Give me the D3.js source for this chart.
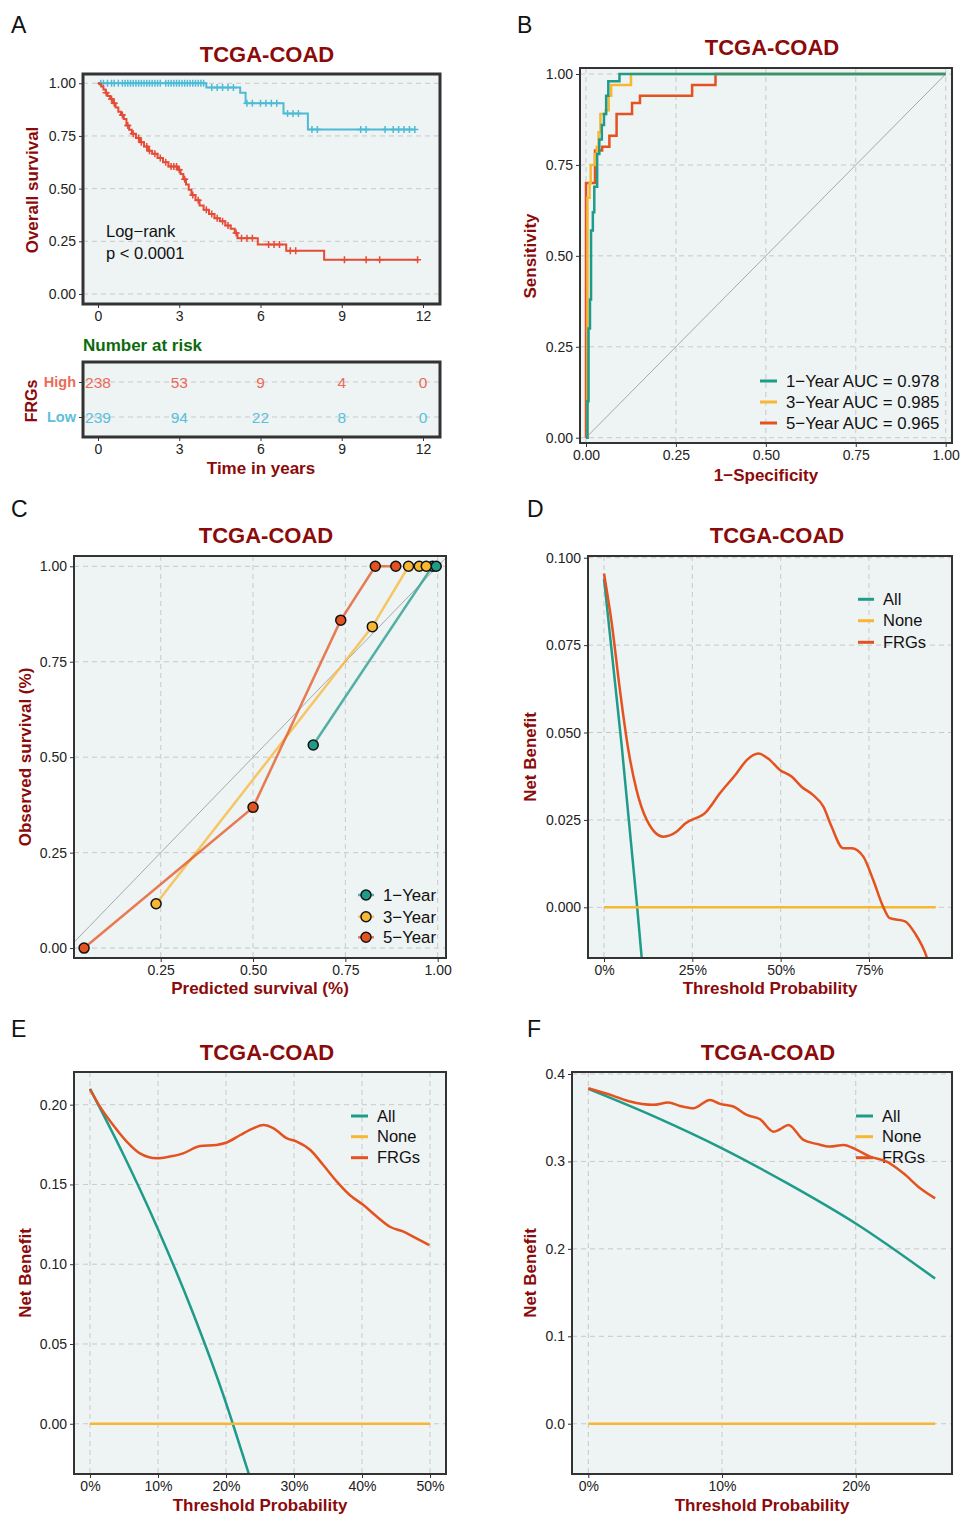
<!DOCTYPE html>
<html>
<head>
<meta charset="utf-8">
<script src="https://cdn.jsdelivr.net/npm/d3@7"></script>
<style>
body { margin: 0; background: #fff; }
svg text { font-family: "Liberation Sans", Arial, sans-serif; }
</style>
</head>
<body>
<div class="chart"></div>
<script>
// ---------- data ----------
// A: Kaplan-Meier, high / low FRGs risk
const hiStepT = [0.05,0.12,0.2,0.28,0.35,0.45,0.55,0.65,0.75,0.85,0.95,1.05,1.15,1.25,1.4,1.55,1.7,1.85,2.0,2.2,2.4,2.6,2.95,3.05,3.15,3.25,3.35,3.45,3.6,3.75,3.9,4.1,4.3,4.5,4.7,4.9,5.05,5.15,5.9,6.95,8.35]
const hiStepS = [0.995,0.985,0.97,0.955,0.94,0.925,0.905,0.885,0.865,0.85,0.83,0.80,0.78,0.76,0.74,0.72,0.70,0.68,0.665,0.645,0.625,0.605,0.59,0.57,0.545,0.52,0.495,0.47,0.445,0.42,0.40,0.38,0.36,0.345,0.325,0.31,0.29,0.265,0.235,0.205,0.162]
const hiEnd = 11.83
const hiCensor = [0.3,0.5,0.6,0.9,1.1,1.3,1.5,1.6,1.8,1.9,2.1,2.3,2.5,2.7,2.8,2.9,3.0,3.2,3.5,3.7,4.0,4.2,4.4,4.6,4.8,5.1,5.3,5.5,5.7,6.3,6.5,6.7,7.1,7.3,9.1,9.9,10.4,11.8]
const loStepT = [4.0,5.25,5.45,6.85,7.75]
const loStepS = [0.98,0.955,0.905,0.857,0.781]
const loEnd = 11.7
const loCensor = [0.1,0.2,0.35,0.5,0.6,0.75,0.9,1.0,1.1,1.2,1.3,1.4,1.5,1.6,1.7,1.8,1.9,2.0,2.1,2.2,2.3,2.5,2.6,2.7,2.8,2.9,3.0,3.1,3.2,3.3,3.4,3.5,3.6,3.7,3.8,3.9,4.2,4.4,4.6,4.8,5.0,5.5,5.7,6.0,6.2,6.4,6.6,7.0,7.2,7.4,7.9,8.1,9.7,9.9,10.6,10.9,11.1,11.3,11.5,11.7]
const riskTimes = [0,3,6,9,12]
const riskHigh = [238,53,9,4,0]
const riskLow = [239,94,22,8,0]
const groups = ['High','Low']

// B: time-dependent ROC (corner points of the step curves)
const roc1 = [[0,0],[0.004,0.10],[0.007,0.30],[0.011,0.38],[0.014,0.57],[0.019,0.62],[0.023,0.69],[0.031,0.78],[0.037,0.82],[0.044,0.86],[0.05,0.89],[0.056,0.94],[0.062,0.98],[0.093,1.0],[1,1]]
const roc3 = [[0,0],[0.004,0.66],[0.01,0.70],[0.013,0.75],[0.025,0.78],[0.03,0.80],[0.035,0.84],[0.04,0.89],[0.055,0.90],[0.063,0.94],[0.07,0.97],[0.125,1.0],[1,1]]
const roc5 = [[0,0],[0,0.70],[0.025,0.79],[0.045,0.80],[0.065,0.83],[0.085,0.89],[0.128,0.92],[0.15,0.94],[0.295,0.97],[0.36,1.0],[1,1]]
const rocLabels = ['1\u2212Year AUC = 0.978','3\u2212Year AUC = 0.985','5\u2212Year AUC = 0.965']

// C: calibration
const cal1Pred = [0.663,0.986,0.996], cal1Obs = [0.532,1,1]
const cal3Pred = [0.2375,0.823,0.921,0.950,0.969], cal3Obs = [0.116,0.842,1,1,1]
const cal5Pred = [0.0425,0.5,0.7375,0.831,0.8865], cal5Obs = [0,0.3686,0.859,1,1]
const calLabels = ['1\u2212Year','3\u2212Year','5\u2212Year']

// D/E/F: decision curves
const dcaLabels = ['All','None','FRGs']
const dThr = [0,0.022,0.045,0.069,0.092,0.121,0.168,0.205,0.229,0.29,0.328,0.375,0.404,0.437,0.47,0.498,0.531,0.559,0.592,0.621,0.644,0.677,0.701,0.734,0.762,0.79,0.809,0.852,0.88,0.913,0.93]
const dFRG = [0.0955,0.0812,0.0622,0.045,0.0336,0.025,0.0202,0.0216,0.0239,0.0274,0.0326,0.0383,0.0421,0.044,0.0421,0.0393,0.0374,0.0345,0.0321,0.0288,0.0231,0.0169,0.0169,0.0145,0.0078,0.0002,-0.0031,-0.004,-0.0074,-0.0141,-0.02]
const dAllThr = [0,0.05,0.094,0.115], dAll = [0.094,0.0463,0,-0.024]
const dNoneThr = [0,0.939]

const eThr = [0,0.0147,0.034,0.054,0.0735,0.098,0.1176,0.137,0.162,0.186,0.201,0.221,0.240,0.255,0.270,0.289,0.304,0.324,0.343,0.363,0.382,0.402,0.422,0.441,0.461,0.480,0.499]
const eFRG = [0.2097,0.1988,0.1873,0.1769,0.1695,0.1664,0.1675,0.1695,0.1741,0.1748,0.1763,0.181,0.1852,0.1873,0.1852,0.179,0.1769,0.1716,0.1622,0.1518,0.1434,0.1371,0.1298,0.1235,0.1204,0.1162,0.112]
const eAllThr = [0,0.05,0.1,0.15,0.2,0.21,0.24], eAll = [0.21,0.168,0.122,0.071,0.013,0,-0.04]
const eNoneThr = [0,0.5]

const fThr = [0,0.0187,0.0312,0.0486,0.0598,0.0686,0.0785,0.091,0.0985,0.1085,0.1185,0.1285,0.1384,0.1434,0.1496,0.1609,0.1708,0.1808,0.1908,0.2008,0.2107,0.2232,0.2357,0.2482,0.2594]
const fFRG = [0.3837,0.375,0.3685,0.3647,0.3673,0.3635,0.3608,0.3704,0.3658,0.3628,0.3532,0.3483,0.3341,0.3368,0.3418,0.3246,0.3201,0.317,0.3189,0.3132,0.3055,0.2998,0.2864,0.2693,0.2578]
const fAllThr = [0,0.05,0.1,0.15,0.2,0.2594], fAll = [0.383,0.351,0.315,0.274,0.229,0.166]
const fNoneThr = [0,0.2594]

// ---------- styles ----------
const DARKRED = '#8B0A0A'
const BG = '#EEF3F4'
const GRID = '#C9C9C9'
const TEAL = '#1F9B89', YEL = '#F7B733', ORG = '#E4531F'
const KM_HI = '#E64B35', KM_LO = '#4DBBD5'
const HI_TXT = '#EC6A57', LO_TXT = '#5CC0DA'

const svg = d3.select('.chart').append('svg')
    .attr('width', 960)
    .attr('height', 1515)
    .style('display', 'block')

let clipN = 0

function panel(o){
    const x = d3.scaleLinear().domain(o.xDomain).range([o.left, o.right])
    const y = d3.scaleLinear().domain(o.yDomain).range([o.bottom, o.top])
    const g = svg.append('g')
    g.append('rect')
        .attr('x', o.left).attr('y', o.top)
        .attr('width', o.right - o.left).attr('height', o.bottom - o.top)
        .attr('fill', BG)
    if (o.vgrid !== false) {
        g.selectAll('.vg').data(o.xTicks).join('line')
            .attr('x1', d => x(d)).attr('x2', d => x(d))
            .attr('y1', o.top).attr('y2', o.bottom)
            .attr('stroke', GRID).attr('stroke-dasharray', '5,4')
    }
    g.selectAll('.hg').data(o.yTicks).join('line')
        .attr('y1', d => y(d)).attr('y2', d => y(d))
        .attr('x1', o.left).attr('x2', o.right)
        .attr('stroke', GRID).attr('stroke-dasharray', '5,4')

    const id = 'clip' + (clipN++)
    svg.append('clipPath').attr('id', id).append('rect')
        .attr('x', o.left).attr('y', o.top)
        .attr('width', o.right - o.left).attr('height', o.bottom - o.top)
    const plot = g.append('g').attr('clip-path', `url(#${id})`)
    const top = g.append('g')

    top.append('rect')
        .attr('x', o.left).attr('y', o.top)
        .attr('width', o.right - o.left).attr('height', o.bottom - o.top)
        .attr('fill', 'none').attr('stroke', '#333').attr('stroke-width', o.border || 2)

    const xAxis = d3.axisBottom(x).tickValues(o.xTicks).tickFormat(o.xFmt).tickSize(4).tickPadding(3)
    const yAxis = d3.axisLeft(y).tickValues(o.yTicks).tickFormat(o.yFmt).tickSize(4).tickPadding(3)
    const xa = top.append('g').attr('transform', `translate(0,${o.bottom})`).call(xAxis)
    const ya = top.append('g').attr('transform', `translate(${o.left},0)`).call(yAxis)
    for (const a of [xa, ya]) {
        a.select('.domain').remove()
        a.selectAll('.tick line').attr('stroke', '#333')
        a.selectAll('.tick text').attr('fill', '#222').style('font-size', '14px')
    }

    if (o.title) {
        top.append('text')
            .attr('x', o.titleX).attr('y', o.titleY)
            .attr('text-anchor', 'middle')
            .style('font-size', '22px').style('font-weight', 'bold')
            .attr('fill', DARKRED).text(o.title)
    }
    if (o.xLabel) {
        top.append('text')
            .attr('x', o.xlX).attr('y', o.xlY)
            .attr('text-anchor', 'middle')
            .style('font-size', '17px').style('font-weight', 'bold')
            .attr('fill', DARKRED).text(o.xLabel)
    }
    if (o.yLabel) {
        top.append('text')
            .attr('transform', `translate(${o.ylX},${o.ylY}) rotate(-90)`)
            .attr('text-anchor', 'middle')
            .style('font-size', '17px').style('font-weight', 'bold')
            .attr('fill', DARKRED).text(o.yLabel)
    }
    return {x, y, plot, top, xa, ya}
}

function letter(t, x, y){
    svg.append('text').attr('x', x).attr('y', y)
        .style('font-size', '23px').attr('fill', '#111').text(t)
}

function lineLegend(g, items, x1, x2, tx, ys, fs){
    items.forEach((it, i) => {
        g.append('line').attr('x1', x1).attr('x2', x2).attr('y1', ys[i]).attr('y2', ys[i])
            .attr('stroke', it.color).attr('stroke-width', 3)
        g.append('text').attr('x', tx).attr('y', ys[i]).attr('dy', '0.35em')
            .style('font-size', fs + 'px').attr('fill', '#111').text(it.label)
    })
}

// ---------- A: Kaplan-Meier ----------
letter('A', 11, 33)
const pA = panel({
    left: 83, right: 440, top: 74, bottom: 304,
    xDomain: [-0.554, 12.628], yDomain: [-0.0475, 1.044],
    xTicks: riskTimes, yTicks: [0, 0.25, 0.5, 0.75, 1],
    xFmt: d3.format('d'), yFmt: d3.format('.2f'),
    vgrid: false, border: 3,
    title: 'TCGA-COAD', titleX: 267, titleY: 62,
    yLabel: 'Overall survival', ylX: 38, ylY: 190
})

function survAt(ts, ss, t){
    let s = 1
    ts.forEach((tt, i) => { if (tt <= t) s = ss[i] })
    return s
}
const kmLine = d3.line().x(d => pA.x(d[0])).y(d => pA.y(d[1])).curve(d3.curveStepAfter)
const kmSets = [
    {t: loStepT, s: loStepS, end: loEnd, c: loCensor, col: KM_LO},
    {t: hiStepT, s: hiStepS, end: hiEnd, c: hiCensor, col: KM_HI}
]
kmSets.forEach(k => {
    const pts = [[0, 1]].concat(k.t.map((t, i) => [t, k.s[i]]))
    pts.push([k.end, k.s[k.s.length - 1]])
    pA.plot.append('path').attr('d', kmLine(pts))
        .attr('fill', 'none').attr('stroke', k.col).attr('stroke-width', 2)
    pA.plot.selectAll(null).data(k.c).join('path')
        .attr('d', d => {
            const cx = pA.x(d), cy = pA.y(survAt(k.t, k.s, d))
            return `M${cx-3.5},${cy}H${cx+3.5}M${cx},${cy-3.5}V${cy+3.5}`
        })
        .attr('stroke', k.col).attr('stroke-width', 1.5)
})
pA.top.append('text').attr('x', 106).attr('y', 237)
    .style('font-size', '16.5px').attr('fill', '#111').text('Log\u2212rank')
pA.top.append('text').attr('x', 106).attr('y', 259)
    .style('font-size', '16.5px').attr('fill', '#111').text('p < 0.0001')

// risk table
svg.append('text').attr('x', 83).attr('y', 350.5)
    .style('font-size', '17px').style('font-weight', 'bold')
    .attr('fill', '#0B6B0B').text('Number at risk')
{
    const left = 83, right = 440, top = 362, bottom = 437
    const x = pA.x
    const y = d3.scalePoint().domain(groups).range([382, 417])
    const g = svg.append('g')
    g.append('rect').attr('x', left).attr('y', top)
        .attr('width', right - left).attr('height', bottom - top).attr('fill', BG)
    g.selectAll('.hg').data(groups).join('line')
        .attr('x1', left).attr('x2', right)
        .attr('y1', d => y(d)).attr('y2', d => y(d))
        .attr('stroke', GRID).attr('stroke-dasharray', '5,4')
    const rows = [{g: 'High', v: riskHigh, col: HI_TXT}, {g: 'Low', v: riskLow, col: LO_TXT}]
    rows.forEach(r => {
        g.selectAll(null).data(r.v).join('text')
            .attr('x', (d, i) => x(riskTimes[i])).attr('y', y(r.g)).attr('dy', '0.36em')
            .attr('text-anchor', 'middle')
            .style('font-size', '15.5px').attr('fill', r.col).text(d => d)
    })
    g.append('rect').attr('x', left).attr('y', top)
        .attr('width', right - left).attr('height', bottom - top)
        .attr('fill', 'none').attr('stroke', '#333').attr('stroke-width', 3)
    const xa = g.append('g').attr('transform', `translate(0,${bottom})`)
        .call(d3.axisBottom(x).tickValues(riskTimes).tickFormat(d3.format('d')).tickSize(4).tickPadding(3))
    const ya = g.append('g').attr('transform', `translate(${left},0)`)
        .call(d3.axisLeft(y).tickSize(4).tickPadding(3))
    for (const a of [xa, ya]) {
        a.select('.domain').remove()
        a.selectAll('.tick line').attr('stroke', '#333')
        a.selectAll('.tick text').attr('fill', '#222').style('font-size', '14px')
    }
    ya.selectAll('.tick text')
        .attr('fill', d => d === 'High' ? HI_TXT : LO_TXT)
        .style('font-weight', 'bold').style('font-size', '14.5px')
    g.append('text').attr('transform', 'translate(37,401) rotate(-90)')
        .attr('text-anchor', 'middle').style('font-size', '16px').style('font-weight', 'bold')
        .attr('fill', DARKRED).text('FRGs')
    g.append('text').attr('x', 261).attr('y', 474).attr('text-anchor', 'middle')
        .style('font-size', '17px').style('font-weight', 'bold')
        .attr('fill', DARKRED).text('Time in years')
}

// ---------- B: ROC ----------
letter('B', 517, 33)
const pB = panel({
    left: 580, right: 952, top: 68, bottom: 443,
    xDomain: [-0.0167, 1.0175], yDomain: [-0.0146, 1.0165],
    xTicks: [0, 0.25, 0.5, 0.75, 1], yTicks: [0, 0.25, 0.5, 0.75, 1],
    xFmt: d3.format('.2f'), yFmt: d3.format('.2f'),
    title: 'TCGA-COAD', titleX: 772, titleY: 55,
    xLabel: '1\u2212Specificity', xlX: 766, xlY: 480.5,
    yLabel: 'Sensitivity', ylX: 536, ylY: 256
})
pB.plot.append('line')
    .attr('x1', pB.x(0)).attr('y1', pB.y(0)).attr('x2', pB.x(1)).attr('y2', pB.y(1))
    .attr('stroke', '#A8A8A8').attr('stroke-width', 1)
const rocLine = d3.line().x(d => pB.x(d[0])).y(d => pB.y(d[1])).curve(d3.curveStepAfter)
const rocSets = [{d: roc5, c: ORG}, {d: roc3, c: YEL}, {d: roc1, c: TEAL}]
rocSets.forEach(r => {
    pB.plot.append('path').attr('d', rocLine(r.d))
        .attr('fill', 'none').attr('stroke', r.c).attr('stroke-width', 2.5)
})
lineLegend(pB.top, [
    {color: TEAL, label: rocLabels[0]},
    {color: YEL, label: rocLabels[1]},
    {color: ORG, label: rocLabels[2]}
], 760, 777, 786, [381, 402, 423], 16.8)

// ---------- C: calibration ----------
letter('C', 11, 517)
const pC = panel({
    left: 74, right: 446, top: 556, bottom: 958,
    xDomain: [0.0152, 1.0225], yDomain: [-0.026, 1.027],
    xTicks: [0.25, 0.5, 0.75, 1], yTicks: [0, 0.25, 0.5, 0.75, 1],
    xFmt: d3.format('.2f'), yFmt: d3.format('.2f'),
    title: 'TCGA-COAD', titleX: 266, titleY: 543,
    xLabel: 'Predicted survival (%)', xlX: 260, xlY: 994,
    yLabel: 'Observed survival (%)', ylX: 31, ylY: 757
})
pC.plot.append('line')
    .attr('x1', pC.x(0)).attr('y1', pC.y(0)).attr('x2', pC.x(1.05)).attr('y2', pC.y(1.05))
    .attr('stroke', '#A8A8A8').attr('stroke-width', 1)
const calSets = [
    {p: cal1Pred, o: cal1Obs, c: TEAL},
    {p: cal3Pred, o: cal3Obs, c: YEL},
    {p: cal5Pred, o: cal5Obs, c: ORG}
]
const calLine = d3.line().x(d => pC.x(d[0])).y(d => pC.y(d[1]))
calSets.forEach(s => {
    pC.plot.append('path').attr('d', calLine(s.p.map((v, i) => [v, s.o[i]])))
        .attr('fill', 'none').attr('stroke', s.c).attr('stroke-width', 2.5).attr('opacity', 0.75)
})
calSets.forEach(s => {
    pC.top.selectAll(null).data(s.p.map((v, i) => [v, s.o[i]])).join('circle')
        .attr('cx', d => pC.x(d[0])).attr('cy', d => pC.y(d[1])).attr('r', 5)
        .attr('fill', s.c).attr('stroke', '#111').attr('stroke-width', 1.5)
})
calSets.forEach((s, i) => {
    const yy = [895, 916.7, 937.3][i]
    pC.top.append('line').attr('x1', 358).attr('x2', 374).attr('y1', yy).attr('y2', yy)
        .attr('stroke', s.c).attr('stroke-width', 2.5).attr('opacity', 0.75)
    pC.top.append('circle').attr('cx', 366).attr('cy', yy).attr('r', 5)
        .attr('fill', s.c).attr('stroke', '#111').attr('stroke-width', 1.5)
    pC.top.append('text').attr('x', 383).attr('y', yy).attr('dy', '0.35em')
        .style('font-size', '16.8px').attr('fill', '#111').text(calLabels[i])
})

// ---------- D/E/F: decision curves ----------
function dca(p, allT, allV, noneT, frgT, frgV){
    const ln = d3.line().x(d => p.x(d[0])).y(d => p.y(d[1])).curve(d3.curveMonotoneX)
    p.plot.append('path').attr('d', ln(allT.map((t, i) => [t, allV[i]])))
        .attr('fill', 'none').attr('stroke', TEAL).attr('stroke-width', 2.5)
    p.plot.append('path').attr('d', ln(noneT.map(t => [t, 0])))
        .attr('fill', 'none').attr('stroke', YEL).attr('stroke-width', 2.5)
    p.plot.append('path').attr('d', ln(frgT.map((t, i) => [t, frgV[i]])))
        .attr('fill', 'none').attr('stroke', ORG).attr('stroke-width', 2.5)
}
const dcaItems = [
    {color: TEAL, label: dcaLabels[0]},
    {color: YEL, label: dcaLabels[1]},
    {color: ORG, label: dcaLabels[2]}
]

letter('D', 527, 517)
const pD = panel({
    left: 588, right: 952, top: 556, bottom: 958,
    xDomain: [-0.0453, 0.985], yDomain: [-0.0145, 0.1005],
    xTicks: [0, 0.25, 0.5, 0.75], yTicks: [0, 0.025, 0.05, 0.075, 0.1],
    xFmt: d3.format('.0%'), yFmt: d3.format('.3f'),
    title: 'TCGA-COAD', titleX: 777, titleY: 543,
    xLabel: 'Threshold Probability', xlX: 770, xlY: 994,
    yLabel: 'Net Benefit', ylX: 536, ylY: 757
})
dca(pD, dAllThr, dAll, dNoneThr, dThr, dFRG)
lineLegend(pD.top, dcaItems, 858, 874, 883, [599.3, 620.7, 642.3], 16.5)

letter('E', 11, 1037)
const pE = panel({
    left: 74, right: 446, top: 1072, bottom: 1474,
    xDomain: [-0.0235, 0.5235], yDomain: [-0.0315, 0.2205],
    xTicks: [0, 0.1, 0.2, 0.3, 0.4, 0.5], yTicks: [0, 0.05, 0.1, 0.15, 0.2],
    xFmt: d3.format('.0%'), yFmt: d3.format('.2f'),
    title: 'TCGA-COAD', titleX: 267, titleY: 1060,
    xLabel: 'Threshold Probability', xlX: 260, xlY: 1510.5,
    yLabel: 'Net Benefit', ylX: 31, ylY: 1273
})
dca(pE, eAllThr, eAll, eNoneThr, eThr, eFRG)
lineLegend(pE.top, dcaItems, 351, 368, 377, [1116, 1136.7, 1157.7], 16.5)

letter('F', 527, 1037)
const pF = panel({
    left: 572, right: 952, top: 1072, bottom: 1474,
    xDomain: [-0.0122, 0.272], yDomain: [-0.0575, 0.4023],
    xTicks: [0, 0.1, 0.2], yTicks: [0, 0.1, 0.2, 0.3, 0.4],
    xFmt: d3.format('.0%'), yFmt: d3.format('.1f'),
    title: 'TCGA-COAD', titleX: 768, titleY: 1060,
    xLabel: 'Threshold Probability', xlX: 762, xlY: 1510.5,
    yLabel: 'Net Benefit', ylX: 536, ylY: 1273
})
// legend sits under the curves in F
lineLegend(pF.plot, dcaItems, 856, 873, 882, [1116, 1136.7, 1157.7], 16.5)
dca(pF, fAllThr, fAll, fNoneThr, fThr, fFRG)
</script>
</body>
</html>
